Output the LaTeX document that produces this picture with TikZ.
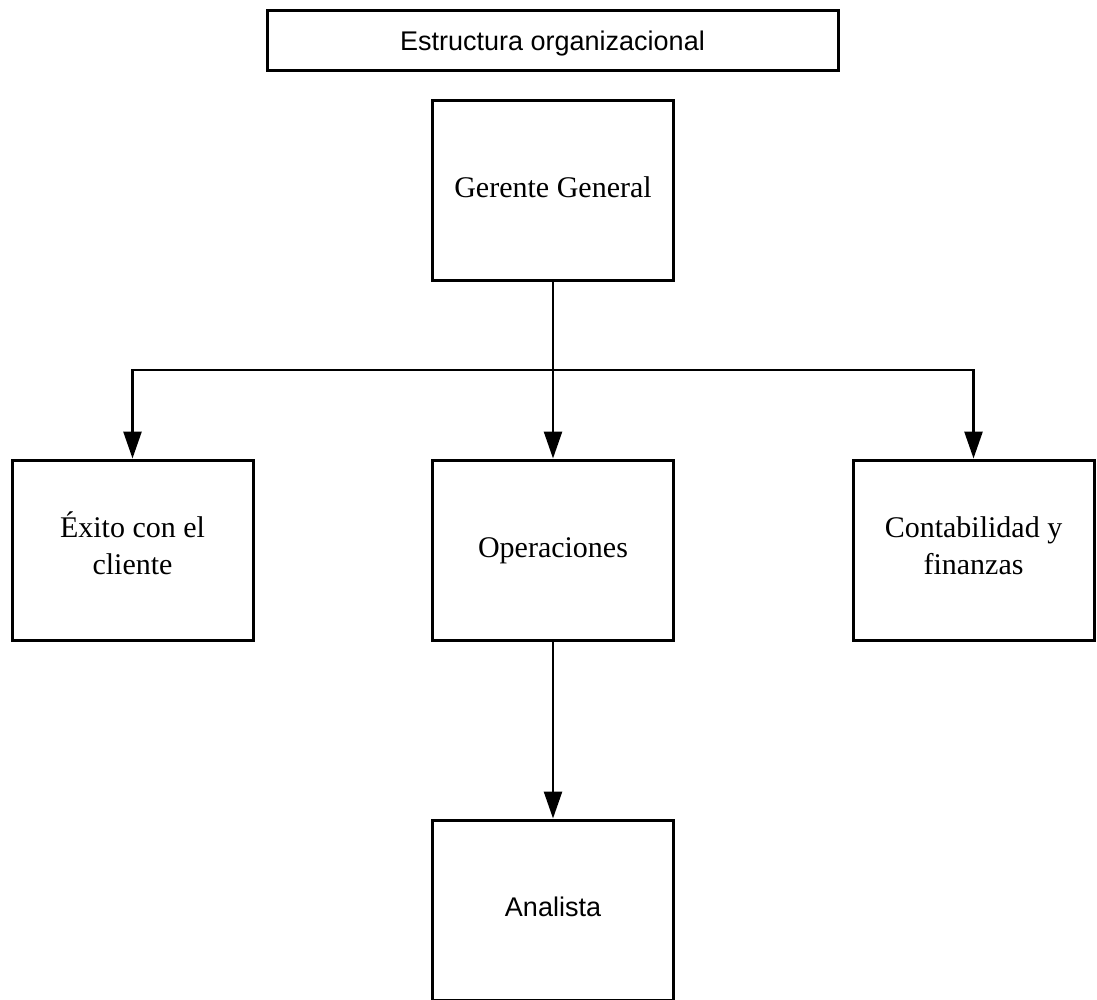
\documentclass[tikz,border=0pt]{standalone}
\usepackage{fontspec}
\setmainfont{Liberation Serif}
\newfontfamily\boxsans{Liberation Sans}
\usetikzlibrary{arrows.meta}
\begin{document}
\begin{tikzpicture}[x=1pt,y=-1pt,
  box/.style={draw, line width=3pt, minimum width=241pt, minimum height=180pt,
    inner sep=0pt, align=center, font=\fontsize{30}{37}\selectfont,
    text height=21pt, text depth=7pt},
  twoline/.style={text height=55pt, text depth=7pt},
  sansbox/.style={box, font=\boxsans\fontsize{27}{32}\selectfont,
    text height=20pt, text depth=8pt},
  conn/.style={line width=2.6pt, -{Triangle[length=27pt,width=18pt]}},
  plain/.style={line width=2.6pt}]
\useasboundingbox (0,0) rectangle (1097,999);

% heading
\node[sansbox, minimum width=571pt, minimum height=60pt, text height=20pt, text depth=0pt]
  (title) at (552.5,40) {Estructura organizacional};

% hierarchy
\node[box] (gg)    at (553,190)   {Gerente General};
\node[box, twoline] (exito) at (132.5,550) {Éxito con el\\cliente};
\node[box] (ops)   at (553,550)   {Operaciones};
\node[box, twoline] (cont)  at (973.5,550) {Contabilidad y\\finanzas};
\node[sansbox] (anal) at (553,910) {Analista};

% branch point under the general manager
\coordinate (hub) at (553,370);

\draw[plain] (gg.south) -- (hub);
\draw[conn] (hub) -| (exito.north);
\draw[conn] (hub) -| (cont.north);
\draw[conn] (hub) -- (ops.north);
\draw[conn] (ops.south) -- (anal.north);
\end{tikzpicture}
\end{document}
